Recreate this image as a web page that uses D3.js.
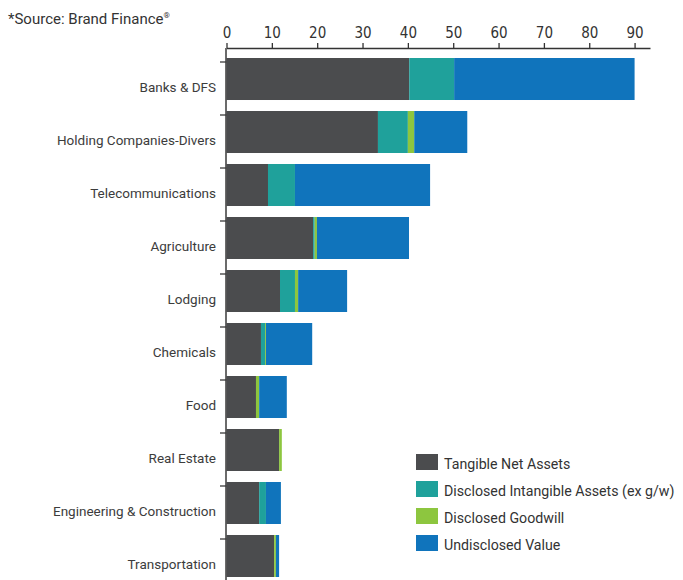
<!DOCTYPE html>
<html>
<head>
<meta charset="utf-8">
<script src="https://cdn.jsdelivr.net/npm/d3@7/dist/d3.min.js"></script>
<style>
  html, body { margin: 0; padding: 0; background: #fff; }
  svg { display: block; }
  text { font-family: Roboto, "Noto Sans", sans-serif; }
</style>
</head>
<body>
<svg id="chart" width="683" height="580"></svg>
<script>
// Brand value composition by sector (US$ bn)
const categories = [
  "Banks & DFS",
  "Holding Companies-Divers",
  "Telecommunications",
  "Agriculture",
  "Lodging",
  "Chemicals",
  "Food",
  "Real Estate",
  "Engineering & Construction",
  "Transportation"
];

const seriesNames = [
  "Tangible Net Assets",
  "Disclosed Intangible Assets (ex g/w)",
  "Disclosed Goodwill",
  "Undisclosed Value"
];

const tangibleNetAssets   = [40.3, 33.4,  9.15, 19.1, 11.8, 7.6, 6.5, 11.6, 7.2, 10.5];
const disclosedIntangible = [ 9.9,  6.6,  5.95,  0.35, 3.3, 0.9, 0.0,  0.0, 1.5,  0.0];
const disclosedGoodwill   = [ 0.0,  1.4,  0.0,   0.5,  0.7, 0.2, 0.7,  0.6, 0.0,  0.4];
const undisclosedValue    = [39.8, 11.7, 29.8,  20.3, 10.8, 10.2, 6.1,  0.0, 3.3,  0.7];

const tickValues = [0, 10, 20, 30, 40, 50, 60, 70, 80, 90];

const colors = ["#4b4c4e", "#1fa19b", "#8dc63f", "#1074bc"];

const svg = d3.select("#chart");

const rows = categories.map((c, i) => ({
  category: c,
  s0: tangibleNetAssets[i],
  s1: disclosedIntangible[i],
  s2: disclosedGoodwill[i],
  s3: undisclosedValue[i]
}));

const stack = d3.stack().keys(["s0", "s1", "s2", "s3"]);
const layers = stack(rows);

const x = d3.scaleLinear().domain([0, 93.4]).range([226.5, 650]);
const y = d3.scaleBand()
  .domain(categories)
  .range([58, 577])
  .paddingInner(0.2075)
  .paddingOuter(0);

// source note
const src = svg.append("text")
  .attr("x", 8).attr("y", 24)
  .attr("fill", "#333")
  .style("font-size", "15px");
src.append("tspan").text("*Source: Brand Finance");
src.append("tspan").attr("dy", -6).style("font-size", "8px").text("®");

// top axis
const xAxis = d3.axisTop(x)
  .tickValues(tickValues)
  .tickSize(5)
  .tickSizeOuter(0)
  .tickPadding(5);

const gx = svg.append("g")
  .attr("transform", "translate(0,48)")
  .call(xAxis);
gx.select(".domain").attr("stroke", "#333").attr("stroke-width", 1.3);
gx.selectAll(".tick line").attr("stroke", "#333").attr("stroke-width", 1.3);
gx.selectAll(".tick text")
  .attr("fill", "#333")
  .style("font-family", "'Liberation Sans Narrow', 'DejaVu Sans Condensed', Roboto, sans-serif")
  .style("font-size", "15px");

// stacked bars
svg.append("g")
  .selectAll("g")
  .data(layers)
  .join("g")
  .attr("fill", (d, i) => colors[i])
  .selectAll("rect")
  .data(d => d)
  .join("rect")
  .attr("x", d => x(d[0]))
  .attr("y", d => y(d.data.category))
  .attr("width", d => Math.max(0, x(d[1]) - x(d[0])))
  .attr("height", y.bandwidth());

// vertical axis line with short category ticks
const gy = svg.append("g");
gy.append("line")
  .attr("x1", x(0) - 0.5).attr("x2", x(0) - 0.5)
  .attr("y1", 48).attr("y2", 580)
  .attr("stroke", "#3a3a3a").attr("stroke-width", 1.5);
gy.selectAll("line.cat")
  .data(categories)
  .join("line")
  .attr("class", "cat")
  .attr("x1", x(0) - 6.5).attr("x2", x(0))
  .attr("y1", d => y(d) + 4).attr("y2", d => y(d) + 4)
  .attr("stroke", "#3a3a3a").attr("stroke-width", 1.3);
gy.selectAll("text")
  .data(categories)
  .join("text")
  .attr("x", 216)
  .attr("y", d => y(d) + 34)
  .attr("text-anchor", "end")
  .attr("fill", "#3c3c3c")
  .style("font-size", "13.5px")
  .text(d => d);

// legend
const legend = svg.append("g").attr("transform", "translate(416,454)");
const items = legend.selectAll("g")
  .data(seriesNames)
  .join("g")
  .attr("transform", (d, i) => `translate(0,${i * 27})`);
items.append("rect")
  .attr("width", 22).attr("height", 16)
  .attr("fill", (d, i) => colors[i]);
items.append("text")
  .attr("x", 28).attr("y", 15)
  .attr("fill", "#333")
  .style("font-size", "14.2px")
  .text(d => d);
</script>
</body>
</html>
